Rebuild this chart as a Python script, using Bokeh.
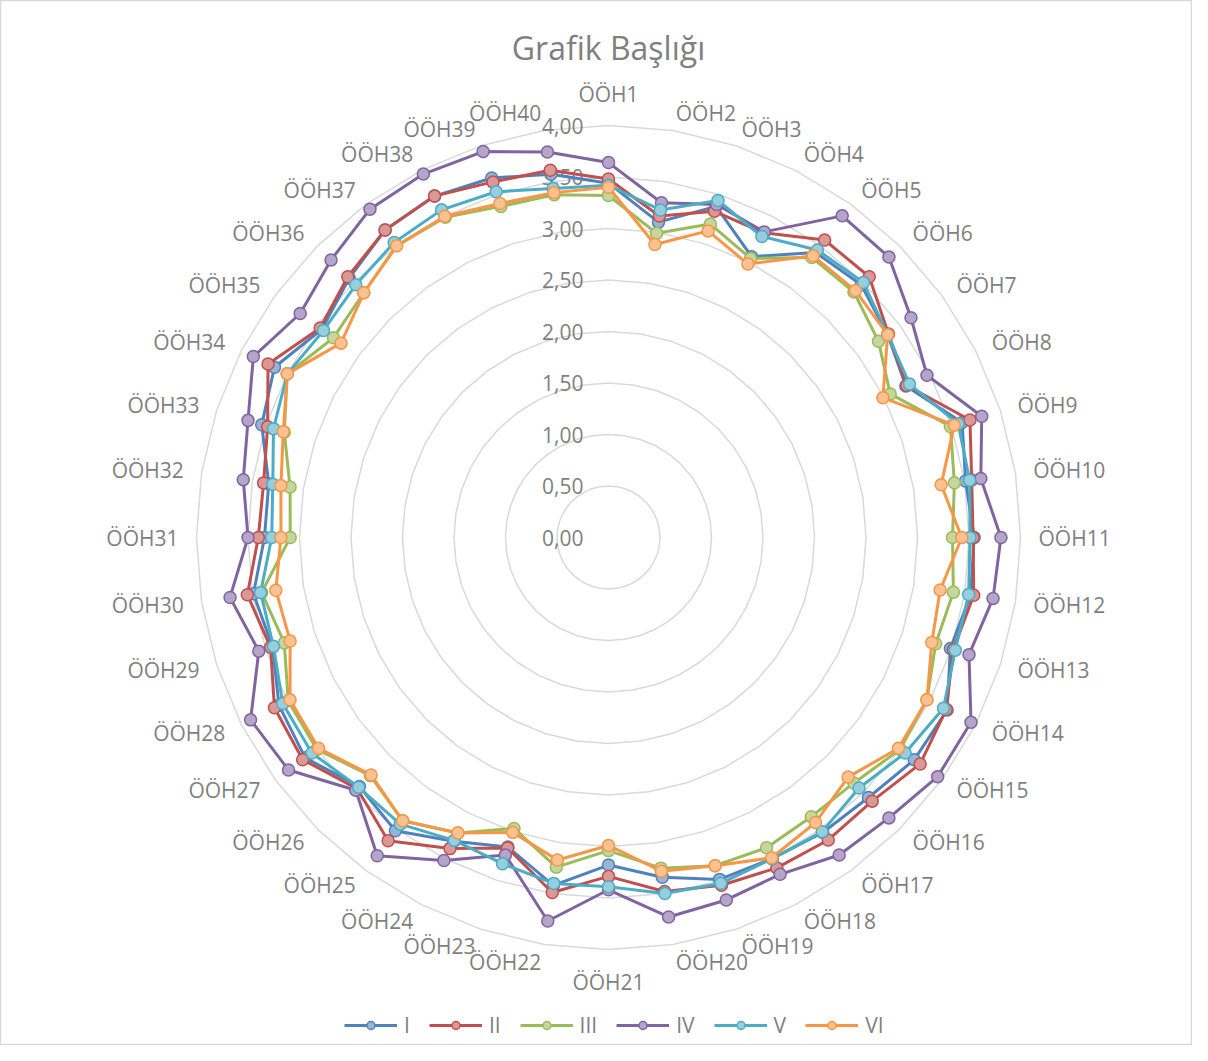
import math
from bokeh.plotting import figure
from bokeh.models import Range1d, Legend, LegendItem, Label, ColumnDataSource
from bokeh.core.properties import value
from bokeh.embed import file_html
from bokeh.resources import INLINE

# ---------------- data ----------------
categories = [f"ÖÖH{i}" for i in range(1, 41)]
series_names = ["I", "II", "III", "IV", "V", "VI"]

s_I = [3.44, 3.10, 3.38, 3.06, 3.42, 3.47, 3.35, 3.24, 3.61, 3.51,
       3.55, 3.56, 3.49, 3.69, 3.67, 3.57, 3.54, 3.50, 3.49, 3.34,
       3.18, 3.42, 3.16, 3.31, 3.52, 3.42, 3.64, 3.59, 3.43, 3.49,
       3.34, 3.34, 3.54, 3.64, 3.44, 3.56, 3.69, 3.72, 3.67, 3.57]
s_II = [3.48, 3.16, 3.33, 3.32, 3.57, 3.58, 3.36, 3.25, 3.69, 3.57,
        3.54, 3.59, 3.52, 3.68, 3.74, 3.62, 3.63, 3.60, 3.55, 3.48,
        3.29, 3.49, 3.17, 3.39, 3.64, 3.45, 3.67, 3.64, 3.45, 3.55,
        3.40, 3.39, 3.48, 3.71, 3.46, 3.58, 3.69, 3.72, 3.63, 3.61]
s_III = [3.32, 2.99, 3.20, 3.04, 3.36, 3.37, 3.24, 3.07, 3.49, 3.40,
         3.34, 3.39, 3.34, 3.47, 3.50, 3.37, 3.35, 3.38, 3.35, 3.25,
         3.04, 3.24, 2.97, 3.22, 3.40, 3.27, 3.50, 3.49, 3.31, 3.41,
         3.09, 3.13, 3.31, 3.50, 3.30, 3.36, 3.50, 3.49, 3.38, 3.37]
s_IV = [3.64, 3.29, 3.40, 3.33, 3.86, 3.85, 3.63, 3.47, 3.81, 3.66,
        3.81, 3.78, 3.68, 3.95, 3.95, 3.85, 3.81, 3.67, 3.70, 3.73,
        3.42, 3.77, 3.24, 3.52, 3.82, 3.47, 3.84, 3.90, 3.57, 3.72,
        3.50, 3.59, 3.68, 3.87, 3.70, 3.81, 3.94, 3.96, 3.94, 3.79]
s_V = [3.42, 3.22, 3.44, 3.28, 3.45, 3.50, 3.35, 3.28, 3.57, 3.55,
       3.51, 3.54, 3.54, 3.65, 3.56, 3.44, 3.53, 3.50, 3.53, 3.50,
       3.39, 3.40, 3.33, 3.30, 3.44, 3.43, 3.56, 3.55, 3.42, 3.42,
       3.27, 3.30, 3.42, 3.50, 3.42, 3.47, 3.54, 3.57, 3.53, 3.43]
s_VI = [3.40, 2.88, 3.13, 2.98, 3.38, 3.39, 3.35, 2.99, 3.53, 3.27,
        3.43, 3.26, 3.30, 3.47, 3.48, 3.29, 3.42, 3.49, 3.35, 3.28,
        2.99, 3.17, 3.01, 3.22, 3.40, 3.26, 3.48, 3.47, 3.25, 3.27,
        3.18, 3.22, 3.32, 3.50, 3.21, 3.36, 3.50, 3.50, 3.41, 3.39]

radial_ticks = [0.0, 0.5, 1.0, 1.5, 2.0, 2.5, 3.0, 3.5, 4.0]
tick_labels = ["0,00", "0,50", "1,00", "1,50", "2,00", "2,50", "3,00", "3,50", "4,00"]

series_values = [s_I, s_II, s_III, s_IV, s_V, s_VI]
colors = ["#4F81BD", "#C0504D", "#9BBB59", "#8064A2", "#4BACC6", "#F79646"]

# ---------------- layout ----------------
W, H = 1192, 1045
CX, CY = 608, 537          # centre in frame px (from left / from top)
PX = 103.0                 # px per value unit
FONT = "Open Sans"
TXT = "#7f7f7f"


def lighten(hexc, f=0.42):
    r, g, b = int(hexc[1:3], 16), int(hexc[3:5], 16), int(hexc[5:7], 16)
    r, g, b = [int(c + (255 - c) * f) for c in (r, g, b)]
    return f"#{r:02x}{g:02x}{b:02x}"


p = figure(width=W, height=H, output_backend="svg", toolbar_location=None,
           min_border=0, x_axis_location=None, y_axis_location=None,
           x_range=Range1d(-CX / PX, (W - CX) / PX),
           y_range=Range1d(-(H - CY) / PX, CY / PX))
p.grid.visible = False
p.outline_line_color = "#d9d9d9"
p.outline_line_width = 1.5
p.background_fill_color = "white"
p.border_fill_color = "white"

n = len(categories)
phis = [2 * math.pi * k / n for k in range(n)]
sins = [math.sin(a) for a in phis]
coss = [math.cos(a) for a in phis]

# grid polygons
gx, gy = [], []
for t in radial_ticks[1:]:
    gx.append([t * s for s in sins] + [0.0])
    gy.append([t * c for c in coss] + [t])
p.multi_line(gx, gy, line_color="#d9d9d9", line_width=1.5)

# radial tick labels
p.text(x=[-25 / PX] * len(radial_ticks), y=radial_ticks, text=tick_labels,
       text_font=value(FONT), text_font_size="21px", text_color=TXT,
       text_align="right", text_baseline="middle")

# category labels: anchored on the spoke just outside the outer ring
lx, ly, la, lb = [], [], [], []
for cat, s, c in zip(categories, sins, coss):
    r = 430.0 / PX
    lx.append(r * s)
    ly.append(r * c)
    la.append("left" if s > 0.05 else ("right" if s < -0.05 else "center"))
    if abs(s) < 0.05:
        lb.append("bottom" if c > 0 else "top")
    else:
        lb.append("middle")
src = ColumnDataSource(dict(x=lx, y=ly, text=categories, align=la, base=lb))
p.text(x="x", y="y", text="text", source=src, text_align="align",
       text_baseline="base", text_font=value(FONT), text_font_size="21px",
       text_color=TXT)

# series
items = []
for name, vals, col in zip(series_names, series_values, colors):
    xs = [v * s for v, s in zip(vals, sins)]
    ys = [v * c for v, c in zip(vals, coss)]
    lr = p.line(xs + [xs[0]], ys + [ys[0]], line_color=col, line_width=3,
                line_join="round")
    sr = p.scatter(xs, ys, marker="circle", size=12, fill_color=lighten(col),
                   line_color=col, line_width=1.5)
    items.append(LegendItem(label=name, renderers=[lr, sr]))

legend = Legend(items=items, orientation="horizontal", location=(344, 6),
                glyph_width=53, glyph_height=20, label_standoff=7, spacing=19,
                label_width=1, padding=2, margin=0, border_line_color=None,
                background_fill_alpha=0, label_text_font=FONT,
                label_text_font_size="21px", label_text_color=TXT)
p.add_layout(legend, "center")

title = Label(x=CX, y=H - 47, x_units="screen", y_units="screen",
              text="Grafik Başlığı", text_font=FONT, text_font_size="32px",
              text_color=TXT, text_align="center", text_baseline="middle")
p.add_layout(title)

open("out.html", "w").write(file_html(p, INLINE))
